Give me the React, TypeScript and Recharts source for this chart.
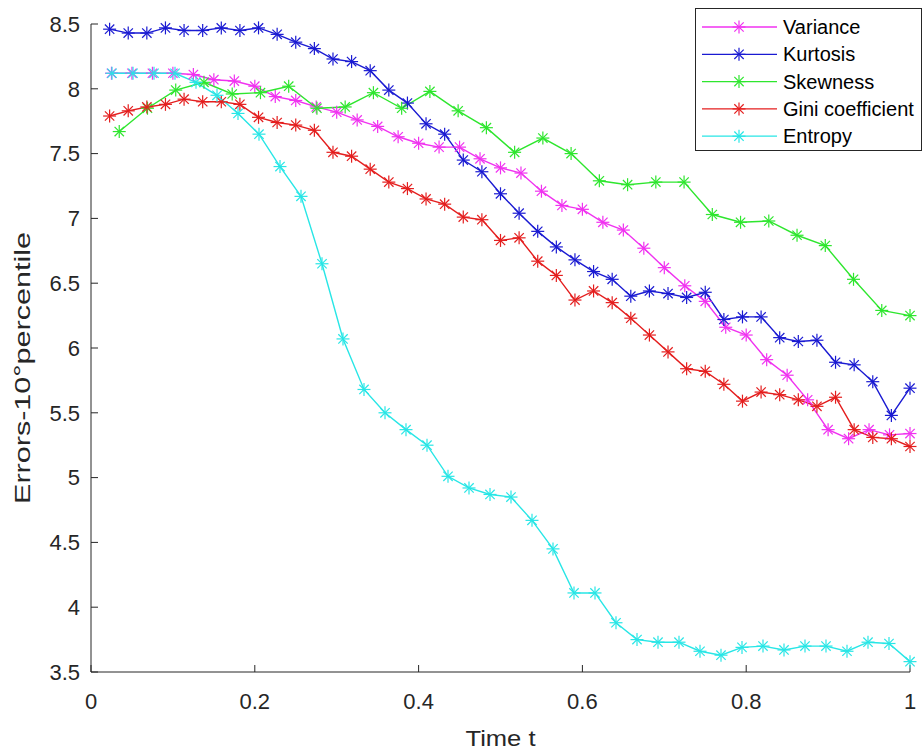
import { LineChart, Line, XAxis, YAxis, Legend, Label } from 'recharts';

const variance = [8.12, 8.12, 8.12, 8.12, 8.11, 8.07, 8.06, 8.02, 7.94, 7.91, 7.86, 7.82, 7.76, 7.71, 7.63, 7.58, 7.55, 7.55, 7.46, 7.39, 7.35, 7.21, 7.10, 7.07, 6.97, 6.91, 6.77, 6.62, 6.48, 6.36, 6.16, 6.10, 5.91, 5.79, 5.60, 5.37, 5.30, 5.37, 5.33, 5.34];
const kurtosis = [8.46, 8.43, 8.43, 8.47, 8.45, 8.45, 8.47, 8.45, 8.47, 8.42, 8.36, 8.31, 8.23, 8.21, 8.14, 7.99, 7.89, 7.73, 7.65, 7.45, 7.36, 7.19, 7.04, 6.90, 6.78, 6.68, 6.59, 6.53, 6.40, 6.44, 6.42, 6.39, 6.43, 6.22, 6.24, 6.24, 6.08, 6.05, 6.06, 5.89, 5.87, 5.74, 5.48, 5.69];
const skewness = [7.67, 7.85, 7.99, 8.05, 7.96, 7.97, 8.02, 7.85, 7.86, 7.97, 7.85, 7.98, 7.83, 7.70, 7.51, 7.62, 7.50, 7.29, 7.26, 7.28, 7.28, 7.03, 6.97, 6.98, 6.87, 6.79, 6.53, 6.29, 6.25];
const gini = [7.79, 7.83, 7.86, 7.88, 7.92, 7.90, 7.90, 7.88, 7.78, 7.74, 7.72, 7.68, 7.51, 7.48, 7.38, 7.28, 7.23, 7.15, 7.11, 7.01, 6.99, 6.83, 6.85, 6.67, 6.56, 6.37, 6.44, 6.35, 6.23, 6.10, 5.97, 5.84, 5.82, 5.72, 5.59, 5.66, 5.64, 5.60, 5.55, 5.62, 5.37, 5.31, 5.30, 5.24];
const entropy = [8.12, 8.12, 8.12, 8.12, 8.05, 7.95, 7.81, 7.65, 7.40, 7.17, 6.65, 6.07, 5.68, 5.50, 5.37, 5.25, 5.01, 4.92, 4.87, 4.85, 4.67, 4.45, 4.11, 4.11, 3.88, 3.75, 3.73, 3.73, 3.66, 3.63, 3.69, 3.70, 3.67, 3.70, 3.70, 3.66, 3.73, 3.72, 3.58];

const xTicks = [0, 0.2, 0.4, 0.6, 0.8, 1];
const yTicks = [3.5, 4, 4.5, 5, 5.5, 6, 6.5, 7, 7.5, 8, 8.5];

const FONT = '"Liberation Sans", Arial, Helvetica, sans-serif';
const AXIS = '#262626';

// each series is sampled on its own even time grid ending at t = 1
const toPoints = (vals: number[]) => vals.map((v, i) => ({ t: (i + 1) / vals.length, v }));

const series = [
  { name: 'Variance', color: '#f032f0', data: toPoints(variance) },
  { name: 'Kurtosis', color: '#1a1ad2', data: toPoints(kurtosis) },
  { name: 'Skewness', color: '#2ee62e', data: toPoints(skewness) },
  { name: 'Gini coefficient', color: '#e41e1e', data: toPoints(gini) },
  { name: 'Entropy', color: '#28e6e6', data: toPoints(entropy) },
];

function Star({ cx, cy, color, r = 6.5 }: { cx: number; cy: number; color: string; r?: number }) {
  const d = r * 0.72;
  return (
    <g stroke={color} strokeWidth={1.2}>
      <line x1={cx - r} y1={cy} x2={cx + r} y2={cy} />
      <line x1={cx} y1={cy - r} x2={cx} y2={cy + r} />
      <line x1={cx - d} y1={cy - d} x2={cx + d} y2={cy + d} />
      <line x1={cx - d} y1={cy + d} x2={cx + d} y2={cy - d} />
    </g>
  );
}

function LegendBox() {
  return (
    <div style={{ width: 227, height: 143, border: `1px solid ${AXIS}`, background: '#fff', boxSizing: 'border-box' }}>
      <svg width={225} height={141} style={{ display: 'block' }}>
        {series.map((s, i) => {
          const y = 18 + i * 27.3;
          return (
            <g key={s.name}>
              <line x1={6} x2={81} y1={y} y2={y} stroke={s.color} strokeWidth={1.3} />
              <Star cx={43} cy={y} color={s.color} />
              <text x={87} y={y + 7} fontSize={20} fontFamily={FONT} fill="#000">{s.name}</text>
            </g>
          );
        })}
      </svg>
    </div>
  );
}

export default function App() {
  return (
    <div style={{ position: 'absolute', left: 0, top: 0, width: 922, height: 755, background: '#fff' }}>
      <LineChart width={922} height={755} margin={{ top: 24, right: 12, bottom: 0, left: 0 }} style={{ fontFamily: FONT }}>
        <XAxis
          xAxisId="b" type="number" dataKey="t" domain={[0, 1]} ticks={xTicks} interval={0}
          height={83} stroke={AXIS} tickSize={-7} tickMargin={28}
          tick={{ fill: AXIS, fontSize: 22 }}
        >
          <Label
            content={({ viewBox }: any) => (
              <text x={viewBox.x + viewBox.width / 2} y={746} textAnchor="middle" fontSize={22} fill={AXIS} fontFamily={FONT} textLength={70} lengthAdjust="spacingAndGlyphs">
                Time t
              </text>
            )}
          />
        </XAxis>
        <XAxis
          xAxisId="top" orientation="top" type="number" domain={[0, 1]} ticks={xTicks} interval={0}
          height={0} stroke={AXIS} tickSize={-7} tick={false}
        />
        <YAxis
          yAxisId="l" type="number" domain={[3.5, 8.5]} ticks={yTicks} interval={0}
          width={91} stroke={AXIS} tickSize={-7} tickMargin={18}
          tick={{ fill: AXIS, fontSize: 22 }}
        >
          <Label
            content={({ viewBox }: any) => {
              const x = 30;
              const y = viewBox.y + viewBox.height / 2 + 20;
              return (
                <text x={x} y={y} transform={`rotate(-90 ${x} ${y})`} textAnchor="middle" fontSize={22} fill={AXIS} fontFamily={FONT} textLength={272} lengthAdjust="spacingAndGlyphs">
                  Errors-10°percentile
                </text>
              );
            }}
          />
        </YAxis>
        <YAxis
          yAxisId="r" orientation="right" type="number" domain={[3.5, 8.5]} ticks={yTicks} interval={0}
          width={0} stroke={AXIS} tickSize={-7} tick={false}
        />
        {series.map((s) => (
          <Line
            key={s.name}
            xAxisId="b"
            yAxisId="l"
            data={s.data}
            dataKey="v"
            name={s.name}
            type="linear"
            stroke={s.color}
            strokeWidth={1.4}
            isAnimationActive={false}
            dot={(p: any) => <Star key={`${s.name}-${p.index}`} cx={p.cx} cy={p.cy} color={s.color} />}
          />
        ))}
        <Legend
          layout="vertical" align="center" verticalAlign="middle"
          wrapperStyle={{ position: 'absolute', left: 695, top: 8, width: 227, height: 143 }}
          content={() => <LegendBox />}
        />
      </LineChart>
    </div>
  );
}
